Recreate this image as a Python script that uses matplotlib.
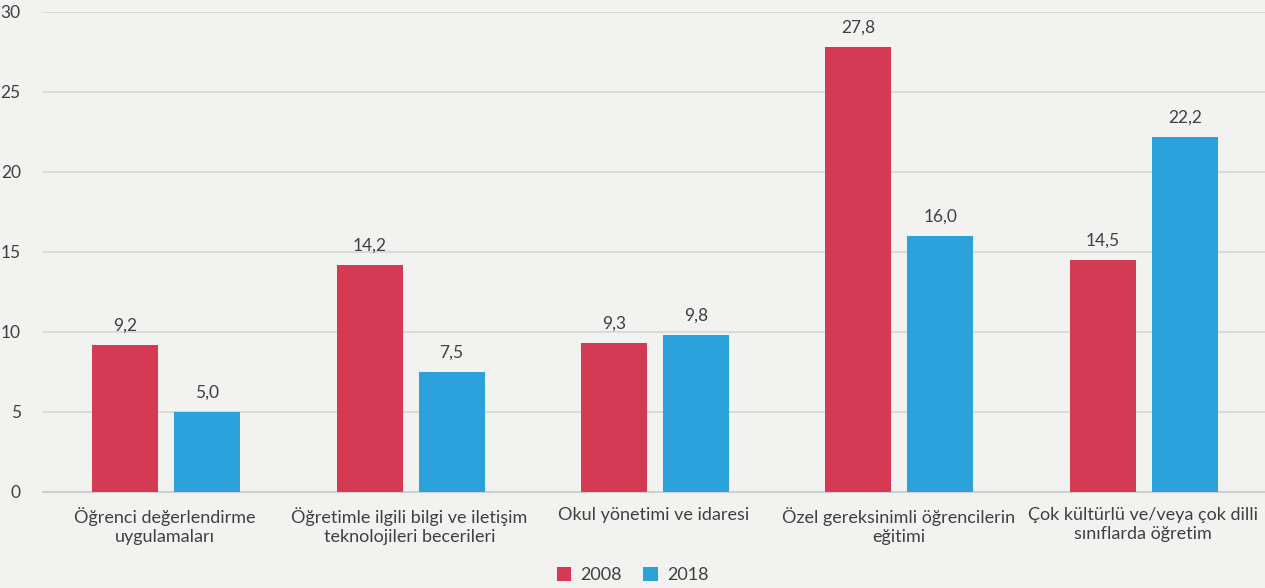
import matplotlib.pyplot as plt
import numpy as np

plt.rcParams['font.family'] = ['Lato', 'DejaVu Sans']

kategoriler = ["Öğrenci değerlendirme\nuygulamaları",
               "Öğretimle ilgili bilgi ve iletişim\nteknolojileri becerileri",
               "Okul yönetimi ve idaresi",
               "Özel gereksinimli öğrencilerin\neğitimi",
               "Çok kültürlü ve/veya çok dilli\nsınıflarda öğretim"]
y2008 = [9.2, 14.2, 9.3, 27.8, 14.5]
y2018 = [5.0, 7.5, 9.8, 16.0, 22.2]

bg = '#f2f2f1'
kirmizi = '#d43a53'
mavi = '#2ba2dc'
yazi = '#404040'

fig = plt.figure(figsize=(12.65, 5.88), dpi=100, facecolor=bg)
ax = fig.add_axes([43 / 1265, 96 / 588, 1222 / 1265, 480 / 588], facecolor=bg)

x = np.arange(len(kategoriler))
w = 0.27
off = 0.168
b1 = ax.bar(x - off + 0.004, y2008, w, color=kirmizi, label='2008', zorder=3)
b2 = ax.bar(x + off + 0.004, y2018, w, color=mavi, label='2018', zorder=3)

for bars in (b1, b2):
    for r in bars:
        v = r.get_height()
        ax.text(r.get_x() + r.get_width() / 2, v + 0.7, f"{v:.1f}".replace('.', ','),
                ha='center', va='bottom', fontsize=12.5, color=yazi)

ax.set_xlim(-0.5, len(kategoriler) - 0.5)
ax.set_ylim(0, 30)
ax.set_yticks(range(0, 31, 5))
ax.yaxis.grid(True, color='#d6d6d6', linewidth=1.2, zorder=0)
ax.set_axisbelow(True)
for s in ['top', 'right', 'left']:
    ax.spines[s].set_visible(False)
ax.spines['bottom'].set_color('#cfcfcf')
ax.spines['bottom'].set_linewidth(1.5)
ax.tick_params(axis='y', length=0, labelsize=12.5, labelcolor=yazi, pad=16)
ax.tick_params(axis='x', length=0, labelsize=13, labelcolor=yazi, pad=11)
ax.set_xticks(x)
ax.set_xticklabels(kategoriler, linespacing=1.2)

fig.legend(handles=[b1, b2], loc='center', bbox_to_anchor=(0.5, 13 / 588), ncol=2,
           frameon=False, fontsize=13, labelcolor=yazi, handlelength=0.8, handleheight=0.8,
           handletextpad=0.5, columnspacing=1.2)

fig.savefig('out.png', dpi=100, facecolor=bg)
